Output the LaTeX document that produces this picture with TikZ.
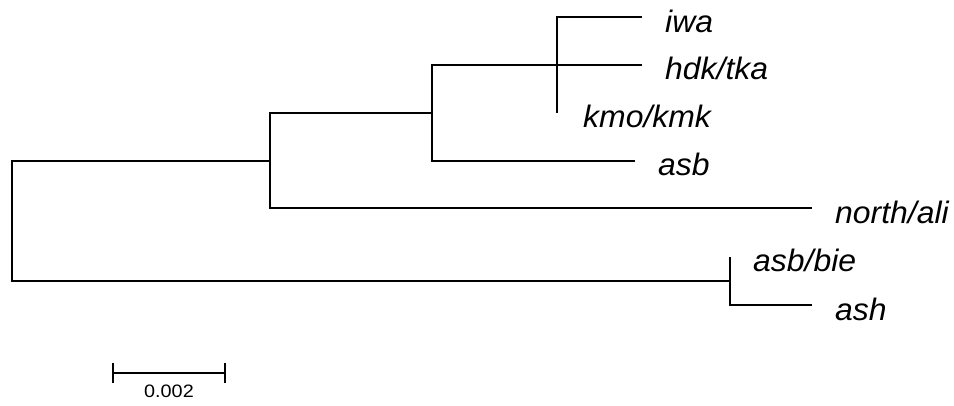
\documentclass[tikz,border=0pt]{standalone}
\usepackage{fontspec}
\setmainfont{Liberation Sans}
\begin{document}
\begin{tikzpicture}[x=1pt,y=-1pt,
  br/.style={line width=2.8pt, draw=black},
  lab/.style={font=\fontsize{31}{36}\selectfont\itshape, anchor=base west, inner sep=0pt, xscale=1.03},
  scl/.style={font=\fontsize{18}{20}\selectfont, anchor=base, inner sep=0pt, xscale=1.1}]
\useasboundingbox[fill=white] (0,0) rectangle (954,405);
% internal nodes
\coordinate (r) at (12,221);
\coordinate (n1) at (270,161);
\coordinate (n2) at (432,113);
\coordinate (n3) at (557,65);
\coordinate (n4) at (730,281);
% tips
\coordinate (tiwa) at (642,17);
\coordinate (thdk) at (642,65);
\coordinate (tkmo) at (557,113);
\coordinate (tasb) at (635,161);
\coordinate (tnor) at (812,208);
\coordinate (tbie) at (730,257);
\coordinate (tash) at (812,305);
% branches
\draw[br] (r) |- (n1);
\draw[br] (r) |- (n4);
\draw[br] (n1) |- (n2);
\draw[br] (n1) |- (tnor);
\draw[br] (n2) |- (n3);
\draw[br] (n2) |- (tasb);
\draw[br] (n3) |- (tiwa);
\draw[br] (n3) -- (thdk);
\draw[br] (n3) -- (tkmo);
\draw[br] (n4) -- (tbie);
\draw[br] (n4) |- (tash);
% labels
\node[lab] (liwa) at (665,32) {iwa};
\node[lab] (lhdk) at (665,79) {hdk/tka};
\node[lab] (lkmo) at (583,127) {kmo/kmk};
\node[lab] (lasb) at (658,175) {asb};
\node[lab] (lnor) at (835,223) {north/ali};
\node[lab] (lbie) at (753,271) {asb/bie};
\node[lab] (lash) at (835,320) {ash};
% scale bar
\coordinate (sa) at (113,373);
\coordinate (sb) at (225,373);
\draw[br] (sa) -- (sb);
\draw[br] ([yshift=-10pt]sa) -- ([yshift=10pt]sa);
\draw[br] ([yshift=-10pt]sb) -- ([yshift=10pt]sb);
\node[scl] (lscale) at (169,397) {0.002};
\end{tikzpicture}
\end{document}
